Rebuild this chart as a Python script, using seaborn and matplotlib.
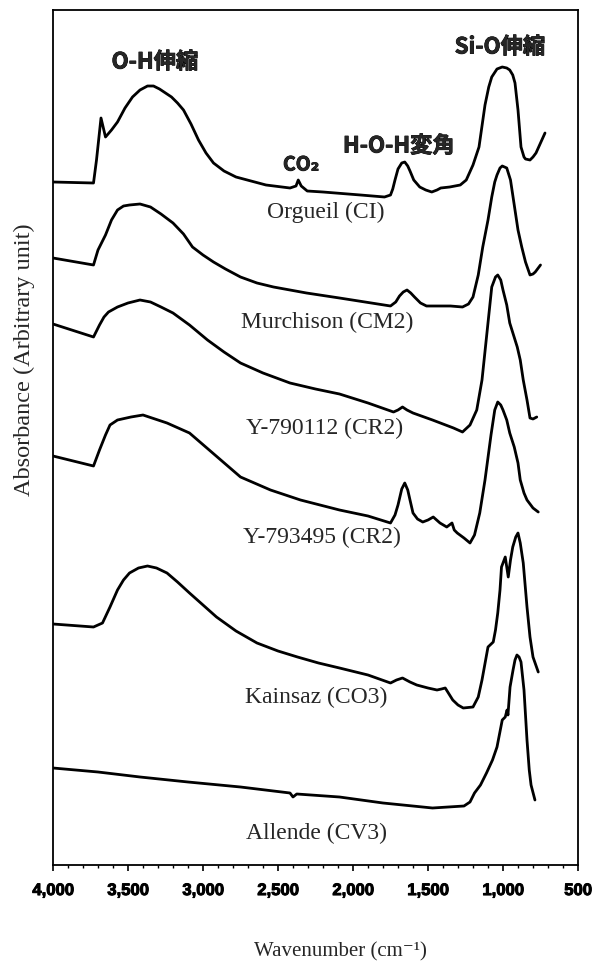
import matplotlib
matplotlib.use('Agg')
import matplotlib.pyplot as plt
import matplotlib.patheffects as pe
import seaborn as sns
import pandas as pd

sns.set_style('white')
plt.rcParams['font.family'] = ['Liberation Serif', 'DejaVu Serif']

# ---------------- data (arbitrary absorbance units) ----------------
orgueil_wn = [4000, 3730, 3710, 3680, 3650, 3610, 3570, 3520, 3470, 3420, 3370, 3330, 3290, 3250, 3210,
              3170, 3130, 3080, 3030, 2980, 2930, 2860, 2780, 2680, 2580, 2420, 2380, 2365, 2345, 2305,
              2200, 1950, 1790, 1750, 1735, 1720, 1700, 1675, 1655, 1635, 1620, 1595, 1555, 1515, 1475,
              1440, 1415, 1355, 1285, 1245, 1200, 1160, 1120, 1095, 1075, 1040, 1005, 975, 955, 935,
              920, 900, 880, 860, 850, 820, 800, 780, 720]
orgueil_abs = [683, 682, 705, 747, 728, 735, 743, 757, 768, 775, 779, 779, 776, 772, 768,
               762, 755, 741, 725, 712, 702, 694, 688, 684, 680, 677, 679, 685, 679, 674,
               673, 670, 668, 670, 676, 685, 696, 702, 703, 699, 694, 685, 678, 675, 673,
               675, 677, 678, 680, 685, 700, 718, 760, 778, 788, 796, 798, 797, 795, 790,
               782, 755, 718, 708, 706, 705, 708, 712, 732]

murchison_wn = [4000, 3730, 3700, 3650, 3610, 3570, 3530, 3490, 3420, 3350, 3280, 3200, 3130, 3070, 3000,
                2930, 2850, 2750, 2640, 2530, 2310, 2090, 1750, 1715, 1690, 1665, 1640, 1615, 1590, 1550,
                1510, 1350, 1270, 1230, 1200, 1165, 1135, 1100, 1075, 1055, 1040, 1020, 1005, 975, 950,
                925, 900, 875, 850, 820, 800, 785, 750]
murchison_abs = [607, 600, 615, 630, 645, 655, 659, 660, 661, 658, 651, 642, 631, 618, 610,
                 603, 596, 588, 582, 578, 572, 567, 559, 563, 569, 573, 575, 572, 568, 562,
                 559, 559, 558, 561, 568, 590, 618, 645, 668, 683, 690, 697, 699, 697, 685,
                 660, 635, 618, 603, 590, 591, 593, 600]

y790112_wn = [4000, 3730, 3690, 3660, 3630, 3570, 3500, 3420, 3350, 3280, 3200, 3090, 2970, 2860, 2750,
              2600, 2420, 2250, 2090, 1900, 1730, 1700, 1670, 1640, 1600, 1470, 1330, 1270, 1220, 1175,
              1140, 1105, 1075, 1050, 1035, 1015, 1000, 975, 955, 905, 885, 865, 840, 820, 800, 775]
y790112_abs = [541, 528, 540, 548, 553, 558, 562, 565, 563, 558, 552, 540, 525, 513, 502,
               492, 482, 476, 471, 462, 453, 455, 458, 455, 452, 445, 437, 433, 440, 455,
               485, 535, 578, 588, 590, 585, 575, 560, 542, 518, 505, 485, 465, 447, 446, 448]

y793495_wn = [4000, 3730, 3690, 3650, 3620, 3570, 3480, 3400, 3320, 3240, 3090, 2920, 2750, 2550, 2350,
              2090, 1900, 1750, 1720, 1700, 1675, 1655, 1635, 1620, 1600, 1570, 1535, 1500, 1465, 1420,
              1375, 1340, 1325, 1305, 1260, 1220, 1190, 1155, 1120, 1080, 1055, 1035, 1015, 1000, 975,
              955, 925, 900, 885, 860, 840, 800, 765]
y793495_abs = [409, 399, 415, 430, 440, 445, 448, 450, 446, 442, 432, 410, 388, 375, 365,
               355, 349, 342, 350, 360, 376, 382, 375, 365, 352, 346, 343, 345, 348, 342,
               338, 342, 335, 332, 327, 322, 330, 352, 385, 430, 455, 463, 460, 455, 445,
               432, 418, 402, 385, 372, 365, 357, 353]

kainsaz_wn = [4000, 3730, 3700, 3670, 3620, 3570, 3530, 3490, 3430, 3370, 3310, 3240, 3170, 3090, 3000,
              2910, 2780, 2640, 2500, 2370, 2230, 2090, 1900, 1750, 1710, 1670, 1620, 1575, 1500, 1440,
              1410, 1385, 1360, 1335, 1300, 1265, 1200, 1165, 1140, 1100, 1065, 1050, 1035, 1020, 1010,
              985, 965, 950, 935, 915, 900, 885, 865, 840, 820, 800, 765]
kainsaz_abs = [241, 238, 240, 242, 258, 275, 285, 292, 297, 299, 297, 292, 283, 272, 260,
               248, 234, 222, 214, 208, 202, 197, 190, 182, 185, 187, 183, 180, 177, 175,
               176, 177, 171, 165, 160, 157, 158, 168, 185, 218, 223, 235, 252, 275, 298,
               308, 288, 305, 318, 328, 332, 322, 302, 258, 228, 208, 193]

allende_wn = [4000, 3700, 3420, 3100, 2750, 2420, 2400, 2375, 2090, 1800, 1470, 1260, 1220, 1190, 1150,
              1110, 1070, 1040, 1005, 985, 973, 967, 953, 933, 920, 907, 893, 880, 860, 840,
              825, 813, 787]
allende_abs = [97, 93, 88, 83, 78, 72, 68, 71, 68, 62, 57, 59, 63, 72, 80,
               92, 105, 118, 145, 148, 155, 150, 178, 195, 205, 210, 208, 203, 175, 125,
               95, 80, 65]

sample_names = ['Orgueil (CI)', 'Murchison (CM2)', 'Y-790112 (CR2)', 'Y-793495 (CR2)',
                'Kainsaz (CO3)', 'Allende (CV3)']
tick_values = [4000, 3500, 3000, 2500, 2000, 1500, 1000, 500]
tick_labels = ['4,000', '3,500', '3,000', '2,500', '2,000', '1,500', '1,000', '500']
band_labels = ['O-H伸縮', 'CO₂', 'H-O-H変角', 'Si-O伸縮']

spectra = [(orgueil_wn, orgueil_abs), (murchison_wn, murchison_abs), (y790112_wn, y790112_abs),
           (y793495_wn, y793495_abs), (kainsaz_wn, kainsaz_abs), (allende_wn, allende_abs)]

frames = []
for name, (wn, ab) in zip(sample_names, spectra):
    frames.append(pd.DataFrame({'wn': wn, 'abs': ab, 'sample': name}))
df = pd.concat(frames, ignore_index=True)

# ---------------- figure ----------------
W, H = 602, 965
fig = plt.figure(figsize=(W / 100, H / 100), dpi=100)
L, R, T, B = 53, 578, 10, 865
ax = fig.add_axes([L / W, 1 - B / H, (R - L) / W, (B - T) / H])

def fx(px):
    return px / W

def fy(py):
    return 1 - py / H

for name in sample_names:
    sub = df[df['sample'] == name]
    sns.lineplot(data=sub, x='wn', y='abs', ax=ax, color='black', lw=2.0,
                 estimator=None, sort=False, legend=False)
for ln in ax.lines:
    ln.set_solid_joinstyle('round')
    ln.set_solid_capstyle('round')

ax.set_xlim(4000, 500)
ax.set_ylim(0, 855)
ax.set_xlabel('')
ax.set_ylabel('')
ax.set_yticks([])
ax.set_xticks(tick_values)
ax.set_xticks(range(4000, 499, -100), minor=True)
ax.set_xticklabels(tick_labels, fontfamily='Liberation Sans', fontweight='bold', fontsize=12)
for t in ax.get_xticklabels():
    t.set_path_effects([pe.withStroke(linewidth=0.7, foreground='black')])
ax.tick_params(axis='x', which='major', bottom=True, direction='out', length=4, width=1.2,
               pad=9, colors='black')
ax.tick_params(axis='x', which='minor', bottom=True, direction='out', length=2.5, width=1.0,
               colors='black')
for s in ax.spines.values():
    s.set_visible(True)
    s.set_color('black')
    s.set_linewidth(1.3)

# sample labels
label_pos = [(326, 212), (327, 322), (325, 428), (322, 537), (316, 697), (316, 833)]
for name, (px, py) in zip(sample_names, label_pos):
    fig.text(fx(px), fy(py), name, ha='center', va='center', fontsize=17,
             family=['Liberation Serif', 'DejaVu Serif'])

# band labels
band_pos = [(155, 62), (301, 165), (399, 146), (500, 47)]
for txt, (px, py) in zip(band_labels, band_pos):
    t = fig.text(fx(px), fy(py), txt, ha='center', va='center',
                 fontsize=16 if txt != 'CO₂' else 14,
                 fontweight='bold', family=['Noto Sans CJK JP', 'DejaVu Sans'])
    t.set_path_effects([pe.withStroke(linewidth=0.6, foreground='black')])

fig.text(fx(340), fy(952), 'Wavenumber (cm⁻¹)', ha='center', va='center', fontsize=15,
         family=['Liberation Serif', 'DejaVu Serif'])
fig.text(fx(24), fy(360), 'Absorbance (Arbitrary unit)', ha='center', va='center', fontsize=17.5,
         rotation=90, family=['Liberation Serif', 'DejaVu Serif'])

fig.savefig('out.png', dpi=100)
